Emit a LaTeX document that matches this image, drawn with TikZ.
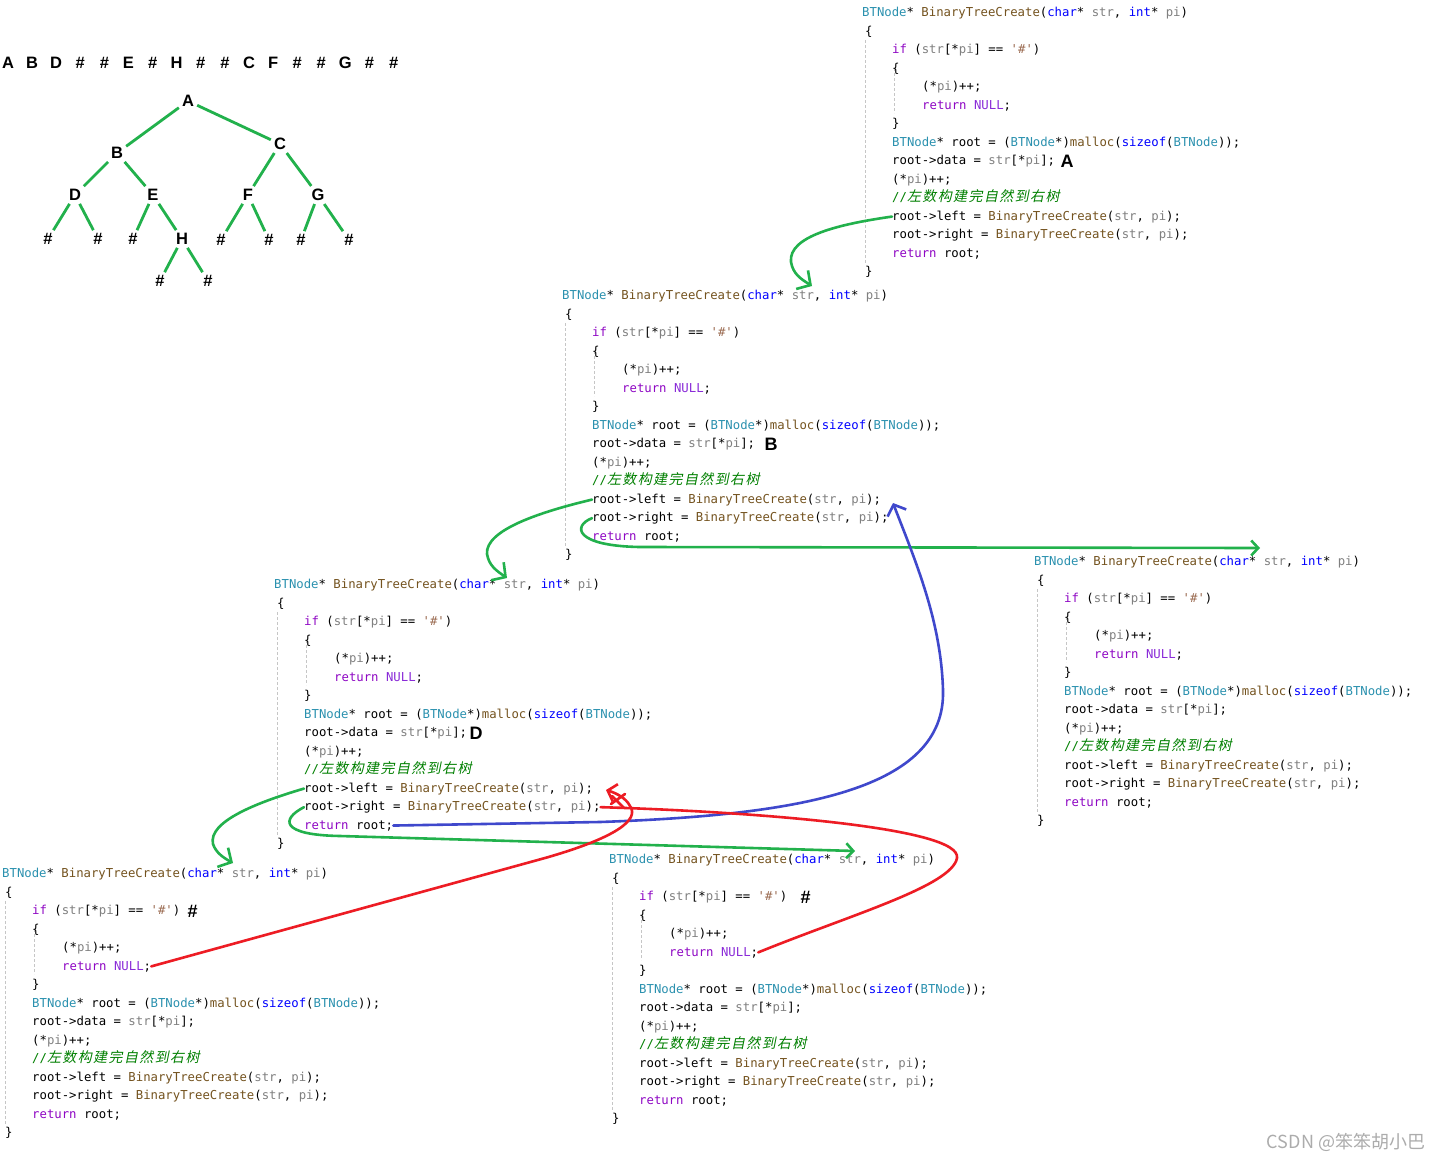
\documentclass[tikz,border=0pt]{standalone}
\usepackage{fontspec}
\usepackage{xcolor}
\usepackage{tikz}
\usetikzlibrary{arrows.meta,positioning}
\setmainfont{Liberation Sans}
\setmonofont{DejaVu Sans Mono}
\newfontfamily\cjkc[FakeSlant=0.2,LetterSpace=10]{Noto Sans CJK SC}
\newfontfamily\cjkw{Noto Sans CJK SC}

\definecolor{typ}{HTML}{2B91AF}
\definecolor{kw}{HTML}{0000FF}
\definecolor{ctl}{HTML}{8F08C4}
\definecolor{mac}{HTML}{8A2BD8}
\definecolor{par}{HTML}{808080}
\definecolor{fn}{HTML}{74531F}
\definecolor{chr}{HTML}{9A6A50}
\definecolor{cmt}{HTML}{008000}
\definecolor{pgreen}{HTML}{22B14C}
\definecolor{pblue}{HTML}{3F48CC}
\definecolor{pred}{HTML}{ED1C24}

% one copy of the recursive function, #1 = name, (#2,#3) = header position
\newcommand{\fnblock}[3]{%
\begin{scope}[shift={(#2,#3)}]
\draw[guide] (3.5,28) -- (3.5,251);
\draw[guide] (32.5,56) -- (32.5,101);
\node[codeln] (#1-0) at (0,4.5) {\textcolor{typ}{BTNode}* \textcolor{fn}{BinaryTreeCreate}(\textcolor{kw}{char}* \textcolor{par}{str}, \textcolor{kw}{int}* \textcolor{par}{pi})};
\node[codeln] (#1-1) at (3,23) {\{};
\node[codeln] (#1-2) at (30,41.5) {\textcolor{ctl}{if} (\textcolor{par}{str}[*\textcolor{par}{pi}] == \textcolor{chr}{'\#'})};
\node[codeln] (#1-3) at (30,60) {\{};
\node[codeln] (#1-4) at (60,78.5) {(*\textcolor{par}{pi})++;};
\node[codeln] (#1-5) at (60,97) {\textcolor{ctl}{return} \textcolor{mac}{NULL};};
\node[codeln] (#1-6) at (30,115.5) {\}};
\node[codeln] (#1-7) at (30,134) {\textcolor{typ}{BTNode}* root = (\textcolor{typ}{BTNode}*)\textcolor{fn}{malloc}(\textcolor{kw}{sizeof}(\textcolor{typ}{BTNode}));};
\node[codeln] (#1-8) at (30,152.5) {root->data = \textcolor{par}{str}[*\textcolor{par}{pi}];};
\node[codeln] (#1-9) at (30,171) {(*\textcolor{par}{pi})++;};
\node[codeln] (#1-10) at (30,189.5) {\textcolor{cmt}{//{\fontsize{14}{14}\selectfont\cjkc 左数构建完自然到右树}}};
\node[codeln] (#1-11) at (30,208) {root->left = \textcolor{fn}{BinaryTreeCreate}(\textcolor{par}{str}, \textcolor{par}{pi});};
\node[codeln] (#1-12) at (30,226.5) {root->right = \textcolor{fn}{BinaryTreeCreate}(\textcolor{par}{str}, \textcolor{par}{pi});};
\node[codeln] (#1-13) at (30,245) {\textcolor{ctl}{return} root;};
\node[codeln] (#1-14) at (3,263.5) {\}};
\end{scope}}

\begin{document}
\begin{tikzpicture}[x=1pt,y=-1pt,
  codeln/.style={anchor=base west, inner sep=0pt, font=\ttfamily\fontsize{12.3}{14}\selectfont},
  guide/.style={gray!45, line width=0.6pt, dash pattern=on 3pt off 2pt},
  tnode/.style={inner sep=3pt, font=\bfseries\fontsize{16.5}{17}\selectfont},
  tedge/.style={pgreen, line width=2.8pt},
  mk/.style={inner sep=0pt, font=\bfseries\fontsize{18}{18}\selectfont},
  garrow/.style={pgreen, line width=2.6pt, line cap=round, line join=round, -{Straight Barb[length=10pt,width=22pt]}},
  barrow/.style={pblue, line width=2.6pt, line cap=round, line join=round, -{Straight Barb[length=9pt,width=20pt]}},
  rline/.style={pred, line width=2.6pt, line cap=round, line join=round}]
\fill[white] (0,0) rectangle (1446,1162);
\useasboundingbox (0,0) rectangle (1446,1162);
% ----- preorder string -----
\foreach \c [count=\i] in {A,B,D,\#,\#,E,\#,H,\#,\#,C,F,\#,\#,G,\#,\#}
  \node[tnode] (s\i) at ({8+24.1*(\i-1)},63) {\c};
% ----- the tree it builds -----
\node[tnode] (tA) at (188,101) {A};
\node[tnode] (tB) at (117,153) {B};
\node[tnode] (tC) at (280,144) {C};
\node[tnode] (tD) at (75,195) {D};
\node[tnode] (tE) at (153,195) {E};
\node[tnode] (tF) at (248,195) {F};
\node[tnode] (tG) at (318,195) {G};
\node[tnode] (tH) at (182,239) {H};
\node[tnode] (n1) at (48,239) {\#};
\node[tnode] (n2) at (98,239) {\#};
\node[tnode] (n3) at (133,239) {\#};
\node[tnode] (n4) at (221,240) {\#};
\node[tnode] (n5) at (269,240) {\#};
\node[tnode] (n6) at (301,240) {\#};
\node[tnode] (n7) at (349,240) {\#};
\node[tnode] (n8) at (160,281) {\#};
\node[tnode] (n9) at (208,281) {\#};
\draw[tedge] (tA) -- (tB);
\draw[tedge] (tA) -- (tC);
\draw[tedge] (tB) -- (tD);
\draw[tedge] (tB) -- (tE);
\draw[tedge] (tC) -- (tF);
\draw[tedge] (tC) -- (tG);
\draw[tedge] (tD) -- (n1);
\draw[tedge] (tD) -- (n2);
\draw[tedge] (tE) -- (n3);
\draw[tedge] (tE) -- (tH);
\draw[tedge] (tF) -- (n4);
\draw[tedge] (tF) -- (n5);
\draw[tedge] (tG) -- (n6);
\draw[tedge] (tG) -- (n7);
\draw[tedge] (tH) -- (n8);
\draw[tedge] (tH) -- (n9);
% ----- the calls -----
\fnblock{cA}{862}{12}
\fnblock{cB}{562}{295}
\fnblock{cD}{274}{584}
\fnblock{cE}{1034}{561}
\fnblock{cDl}{2}{873}
\fnblock{cDr}{609}{859}
% ----- what str[*pi] is in each call -----
\node[mk, right=5pt of cA-8] (mA) {A};
\node[mk, right=9pt of cB-8] (mB) {B};
\node[mk, right=2pt of cD-8] (mD) {D};
\node[mk, right=7pt of cDl-2] (mDl) {\#};
\node[mk, right=13pt of cDr-2] (mDr) {\#};
% ----- green: going down into a call -----
\coordinate (gB) at (812,286);
\coordinate (gD) at (507,578);
\coordinate (gDl) at (233,863);
\coordinate (gE) at (1260,548);
\coordinate (gDr) at (855,851);
\draw[garrow] (cA-11.west) .. controls (840,224) and (788,236) .. (791,262) .. controls (793,274) and (801,279) .. (gB);
\draw[garrow] (cB-11.west) .. controls (540,512) and (485,530) .. (487,554) .. controls (489,566) and (497,571) .. (gD);
\draw[garrow] (cD-11.west) .. controls (255,803) and (208,822) .. (213,844) .. controls (216,853) and (224,858) .. (gDl);
\draw[garrow, -{Straight Barb[length=7pt,width=15pt]}] (cB-12.west) .. controls (572,526) and (575,546) .. (640,547) -- (gE);
\draw[garrow, -{Straight Barb[length=7pt,width=15pt]}] (cD-12.west) .. controls (281,819) and (280,835) .. (340,836) -- (gDr);
% ----- blue: D returns to B -----
\coordinate (bB) at (893,503);
\draw[barrow] (cD-13.east) -- (600,822) .. controls (800,815) and (946,790) .. (943,690) .. controls (941,620) and (915,560) .. (bB);
% ----- red: the two NULL returns -----
\coordinate (rD) at (606,790);
\draw[rline, -{Straight Barb[length=8pt,width=18pt]}] (cDl-5.east) -- (545,858) .. controls (615,838) and (640,820) .. (630,806) .. controls (626,798) and (616,793) .. (rD);
\draw[rline] (611,804) -- (625,794) (612,796) -- (624,808);
\draw[rline] (cD-12.east) .. controls (760,812) and (962,828) .. (957,858) .. controls (952,886) and (850,915) .. (cDr-5.east);
% ----- watermark -----
\node[text=gray!65, font=\cjkw\fontsize{18}{18}\selectfont, inner sep=0pt] (wm) at (1346,1142) {CSDN @笨笨胡小巴};
\end{tikzpicture}
\end{document}
